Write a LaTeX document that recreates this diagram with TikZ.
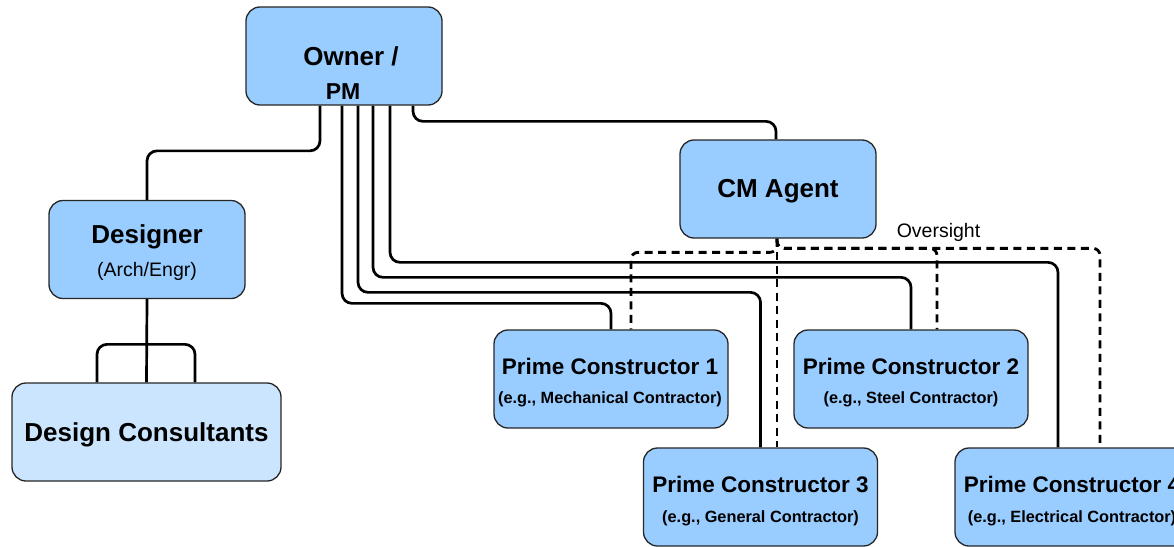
\documentclass[tikz,border=0pt]{standalone}
\usepackage{fontspec}
\setmainfont{Liberation Sans}
\usetikzlibrary{backgrounds}
\definecolor{boxblue}{HTML}{99CCFF}
\definecolor{paleblue}{HTML}{CCE5FF}

\begin{document}
\begin{tikzpicture}[x=1pt,y=-1pt,
  box/.style={draw=black!85, line width=1.3pt, fill=boxblue, rounded corners=14pt,
              inner sep=0pt, minimum width=196pt, minimum height=98pt},
  pcbox/.style={box, minimum width=234pt},
  wire/.style={line width=2.7pt, rounded corners=10pt},
  oversee/.style={line width=2.8pt, dash pattern=on 8pt off 5.5pt, rounded corners=7pt},
  big/.style={font=\bfseries\fontsize{26}{28}\selectfont, inner sep=0pt},
  ttl/.style={font=\bfseries\fontsize{22.5}{24}\selectfont, inner sep=0pt},
  sub/.style={font=\bfseries\fontsize{16.3}{18}\selectfont, inner sep=0pt},
]
\useasboundingbox (0,0) rectangle (1174,546);

% --- boxes ---
\node[box] (owner) at (344,56) {};
\node[big] (ownerT) at (351,56) {Owner /};
\node[font=\bfseries\fontsize{23}{24}\selectfont, inner sep=0pt] (pm) at (343,92) {PM};

\node[box] (cm) at (778,189) {};
\node[big] (cmT) at (778,191.5) {CM Agent};

\node[box] (designer) at (147,249.5) {};
\node[big] (designerT) at (147,236.5) {Designer};
\node[font=\fontsize{19.5}{20}\selectfont, inner sep=0pt] (designerS) at (147,271) {(Arch/Engr)};

\node[box, fill=paleblue, minimum width=269pt] (dc) at (146.5,432) {};
\node[big] (dcT) at (146.5,434.5) {Design Consultants};

\node[pcbox] (pc1) at (611,379) {};
\node[ttl] (pc1T) at (610,366) {Prime Constructor 1};
\node[sub] (pc1S) at (610,399) {(e.g., Mechanical Contractor)};

\node[pcbox] (pc2) at (911,379) {};
\node[ttl] (pc2T) at (911,366) {Prime Constructor 2};
\node[sub] (pc2S) at (911,399) {(e.g., Steel Contractor)};

\node[pcbox] (pc3) at (760.5,497) {};
\node[ttl] (pc3T) at (760.5,484) {Prime Constructor 3};
\node[sub] (pc3S) at (760.5,518) {(e.g., General Contractor)};

\node[pcbox] (pc4) at (1072,497) {};
\node[ttl] (pc4T) at (1072,484) {Prime Constructor 4};
\node[sub] (pc4S) at (1072,518) {(e.g., Electrical Contractor)};

\node[font=\fontsize{19.5}{20}\selectfont, inner sep=0pt] (oversight) at (938.5,232) {Oversight};

% --- reporting lines ---
\begin{scope}[on background layer]
  \draw[wire] ([xshift=-24pt]owner.south) |- ([yshift=49pt]designer.north) -- (designer.north);
  \draw[wire] ([xshift=-2pt]owner.south) |- ([yshift=26pt]pc1.north) -- (pc1.north);
  \draw[wire] ([xshift=14pt]owner.south) |- ([yshift=155pt]pc3.north) -- (pc3.north);
  \draw[wire] ([xshift=29pt]owner.south) |- ([yshift=52pt]pc2.north) -- (pc2.north);
  \draw[wire] ([xshift=46pt]owner.south) |- ([xshift=-14pt,yshift=185pt]pc4.north) -- ([xshift=-14pt]pc4.north);
  \draw[wire] ([xshift=69pt]owner.south) |- ([xshift=-2pt,yshift=18pt]cm.north) -- ([xshift=-2pt]cm.north);

  \draw[wire] (designer.south) -- (dc.north);
  \draw[wire] ([xshift=-49.5pt]dc.north) |- ([yshift=38pt]dc.north) -| ([xshift=48.5pt]dc.north);

  % oversight links from the CM agent
  \draw[oversee] ([xshift=-1pt]cm.south) -- ([xshift=16.5pt]pc3.north);
  \draw[oversee] ([xshift=-1pt]cm.south) |- ([xshift=20pt,yshift=77pt]pc1.north) -- ([xshift=20pt]pc1.north);
  \draw[oversee] ([xshift=-1pt]cm.south) |- ([xshift=28pt,yshift=199pt]pc4.north) -- ([xshift=28pt]pc4.north);
  \draw[oversee] ([xshift=-1pt]cm.south) |- ([xshift=26pt,yshift=81pt]pc2.north) -- ([xshift=26pt]pc2.north);
\end{scope}
\end{tikzpicture}
\end{document}
